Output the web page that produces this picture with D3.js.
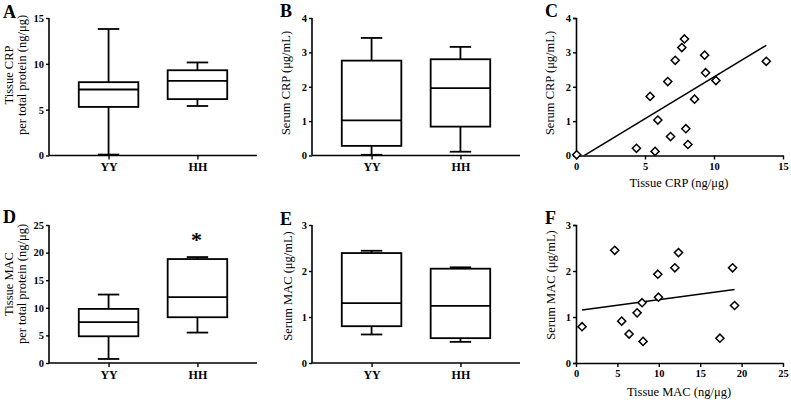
<!DOCTYPE html>
<html><head><meta charset="utf-8">
<script src="https://cdn.jsdelivr.net/npm/d3@7"></script>
<style>
html,body{margin:0;padding:0;background:#fff;}
svg text{font-family:"Liberation Serif","Times New Roman",serif;fill:#000;}
</style></head>
<body><svg id="c" width="791" height="400"></svg>
<script>
// ---------- data ----------
const groups = ["YY", "HH"];
// box stats: [min, q1, median, q3, max]
const tissueCRP = [[0.1, 5.3, 7.2, 8.0, 13.8], [5.4, 6.15, 8.15, 9.3, 10.15]];
const serumCRP  = [[0.02, 0.28, 1.02, 2.76, 3.42], [0.11, 0.84, 1.96, 2.8, 3.16]];
const tissueMAC = [[0.73, 4.84, 7.39, 9.8, 12.4], [5.51, 8.29, 11.92, 18.83, 19.19]];
const serumMAC  = [[0.62, 0.8, 1.3, 2.39, 2.44], [0.46, 0.54, 1.24, 2.05, 2.08]];

const crpX = [0.05, 4.38, 5.73, 5.37, 5.93, 6.65, 6.85, 7.19, 7.67, 7.86, 7.96, 8.11, 8.59, 9.32, 9.39, 10.14, 13.79];
const crpY = [0.02, 0.21, 0.12, 1.72, 1.03, 2.15, 0.55, 2.77, 3.14, 3.39, 0.78, 0.32, 1.64, 2.92, 2.41, 2.18, 2.74];
const crpFit = [0.243, -0.146]; // slope, intercept

const macX = [0.73, 4.68, 5.52, 6.41, 7.38, 7.98, 8.10, 9.88, 9.96, 11.94, 12.38, 17.38, 18.91, 19.15];
const macY = [0.79, 2.45, 0.91, 0.63, 1.09, 1.31, 0.47, 1.93, 1.43, 2.07, 2.40, 0.54, 2.07, 1.25];
const macFit = [0.0244, 1.132];

const ticksCRP_T = [0, 5, 10, 15];
const ticksCRP_S = [0, 1, 2, 3, 4];
const ticksMAC_T = [0, 5, 10, 15, 20, 25];
const ticksMAC_S = [0, 1, 2, 3];

// ---------- layout ----------
const svg = d3.select("#c");
const cols = [[49, 257], [312, 520], [576, 783]];
const rows = [[155.5, 18], [363, 225]];

function yAxis(g, y, ticks) {
  g.call(d3.axisLeft(y).tickValues(ticks).tickSize(3).tickPadding(2).tickFormat(d3.format("d")));
  styleAxis(g);
}
function styleAxis(g) {
  g.select(".domain").attr("stroke", "#000").attr("stroke-width", 1.6);
  g.selectAll(".tick line").attr("stroke", "#000").attr("stroke-width", 1.4);
  g.selectAll(".tick text").attr("font-size", 10.5).attr("font-weight", "bold")
    .style("font-family", '"Liberation Serif",serif');
}
function letter(t, x, y) {
  svg.append("text").attr("x", x).attr("y", y).attr("font-size", 18).attr("font-weight", "bold").text(t);
}
function ytitle(lines, x, cy) {
  const t = svg.append("text").attr("transform", `translate(${x},${cy}) rotate(-90)`)
    .attr("text-anchor", "middle").attr("font-size", 12.5);
  lines.forEach((l, i) => t.append("tspan").attr("x", 0).attr("dy", i === 0 ? 0 : 12.5).text(l));
}

function boxPanel(col, row, stats, ymax, ticks) {
  const [x0, x1] = cols[col], [yb, yt] = rows[row];
  const x = d3.scalePoint().domain(groups).range([x0, x1]).padding(0.67);
  const y = d3.scaleLinear().domain([0, ymax]).range([yb, yt]);
  const bw = x.step() * 0.67, cw = bw * 0.36;
  const g = svg.append("g");
  groups.forEach((grp, i) => {
    const [mn, q1, md, q3, mx] = stats[i];
    const cx = x(grp);
    const L = (xa, ya, xb, yb2) => g.append("line").attr("x1", xa).attr("y1", ya).attr("x2", xb).attr("y2", yb2)
      .attr("stroke", "#000").attr("stroke-width", 1.8);
    L(cx, y(q3), cx, y(mx)); L(cx - cw / 2, y(mx), cx + cw / 2, y(mx));
    L(cx, y(q1), cx, y(mn)); L(cx - cw / 2, y(mn), cx + cw / 2, y(mn));
    g.append("rect").attr("x", cx - bw / 2).attr("y", y(q3)).attr("width", bw).attr("height", y(q1) - y(q3))
      .attr("fill", "#fff").attr("stroke", "#000").attr("stroke-width", 1.8);
    L(cx - bw / 2, y(md), cx + bw / 2, y(md));
  });
  const gx = svg.append("g").attr("transform", `translate(0,${yb})`)
    .call(d3.axisBottom(x).tickSize(4).tickPadding(3).tickSizeOuter(0));
  styleAxis(gx);
  gx.selectAll(".tick text").attr("font-size", 12);
  gx.select(".domain").attr("d", `M${x0},0H${x1}`);
  const gy = svg.append("g").attr("transform", `translate(${x0},0)`);
  yAxis(gy, y, ticks);
  gy.select(".domain").attr("d", `M0,${yb}V${yt}`);
  return { x, y };
}

function scatterPanel(col, row, xs, ys, fit, xmax, ymax, xt, yt2, id) {
  const [x0, x1] = cols[col], [yb, yt] = rows[row];
  const x = d3.scaleLinear().domain([0, xmax]).range([x0, x1]);
  const y = d3.scaleLinear().domain([0, ymax]).range([yb, yt]);
  svg.append("clipPath").attr("id", id).append("rect").attr("x", x0).attr("y", yt).attr("width", x1 - x0).attr("height", yb - yt);
  const ext = d3.extent(xs);
  const line = d3.line().x(d => x(d)).y(d => y(fit[0] * d + fit[1]));
  svg.append("path").attr("d", line(ext)).attr("clip-path", `url(#${id})`)
    .attr("stroke", "#000").attr("stroke-width", 1.5).attr("fill", "none");
  const gx = svg.append("g").attr("transform", `translate(0,${yb})`)
    .call(d3.axisBottom(x).tickValues(xt).tickSize(4).tickPadding(3).tickSizeOuter(0).tickFormat(d3.format("d")));
  styleAxis(gx);
  const gy = svg.append("g").attr("transform", `translate(${x0},0)`);
  yAxis(gy, y, yt2);
  const sym = d3.symbol().type(d3.symbolDiamond2).size(42);
  svg.append("g").selectAll("path").data(xs).join("path")
    .attr("transform", (d, i) => `translate(${x(d)},${y(ys[i])})`)
    .attr("d", sym).attr("fill", "#fff").attr("stroke", "#000").attr("stroke-width", 1.5);
}

// ---------- panels ----------
boxPanel(0, 0, tissueCRP, 15, [0, 5, 10, 15]);
boxPanel(1, 0, serumCRP, 4, ticksCRP_S);
scatterPanel(2, 0, crpX, crpY, crpFit, 15, 4, ticksCRP_T, ticksCRP_S, "clipC");
boxPanel(0, 1, tissueMAC, 25, [0, 5, 10, 15, 20, 25]);
boxPanel(1, 1, serumMAC, 3, ticksMAC_S);
scatterPanel(2, 1, macX, macY, macFit, 25, 3, ticksMAC_T, ticksMAC_S, "clipF");

letter("A", 3, 18); letter("B", 280, 17); letter("C", 545, 17);
letter("D", 3, 223); letter("E", 280, 225); letter("F", 545, 224);

ytitle(["Tissue CRP", "per total protein (ng/\u03bcg)"], 13, 75);
ytitle(["Serum CRP (\u03bcg/mL)"], 290, 83);
ytitle(["Serum CRP (\u03bcg/mL)"], 554, 83);
ytitle(["Tissue MAC", "per total protein (ng/\u03bcg)"], 13, 284);
ytitle(["Serum MAC (\u03bcg/mL)"], 292, 286);
ytitle(["Serum MAC (\u03bcg/mL)"], 555, 285);

svg.append("text").attr("x", 679).attr("y", 187).attr("text-anchor", "middle").attr("font-size", 12.5).text("Tissue CRP (ng/\u03bcg)");
svg.append("text").attr("x", 679).attr("y", 396).attr("text-anchor", "middle").attr("font-size", 12.5).text("Tissue MAC (ng/\u03bcg)");
svg.append("text").attr("x", 196.5).attr("y", 247).attr("text-anchor", "middle").attr("font-size", 22).attr("font-weight", "bold").text("*");
</script></body></html>
